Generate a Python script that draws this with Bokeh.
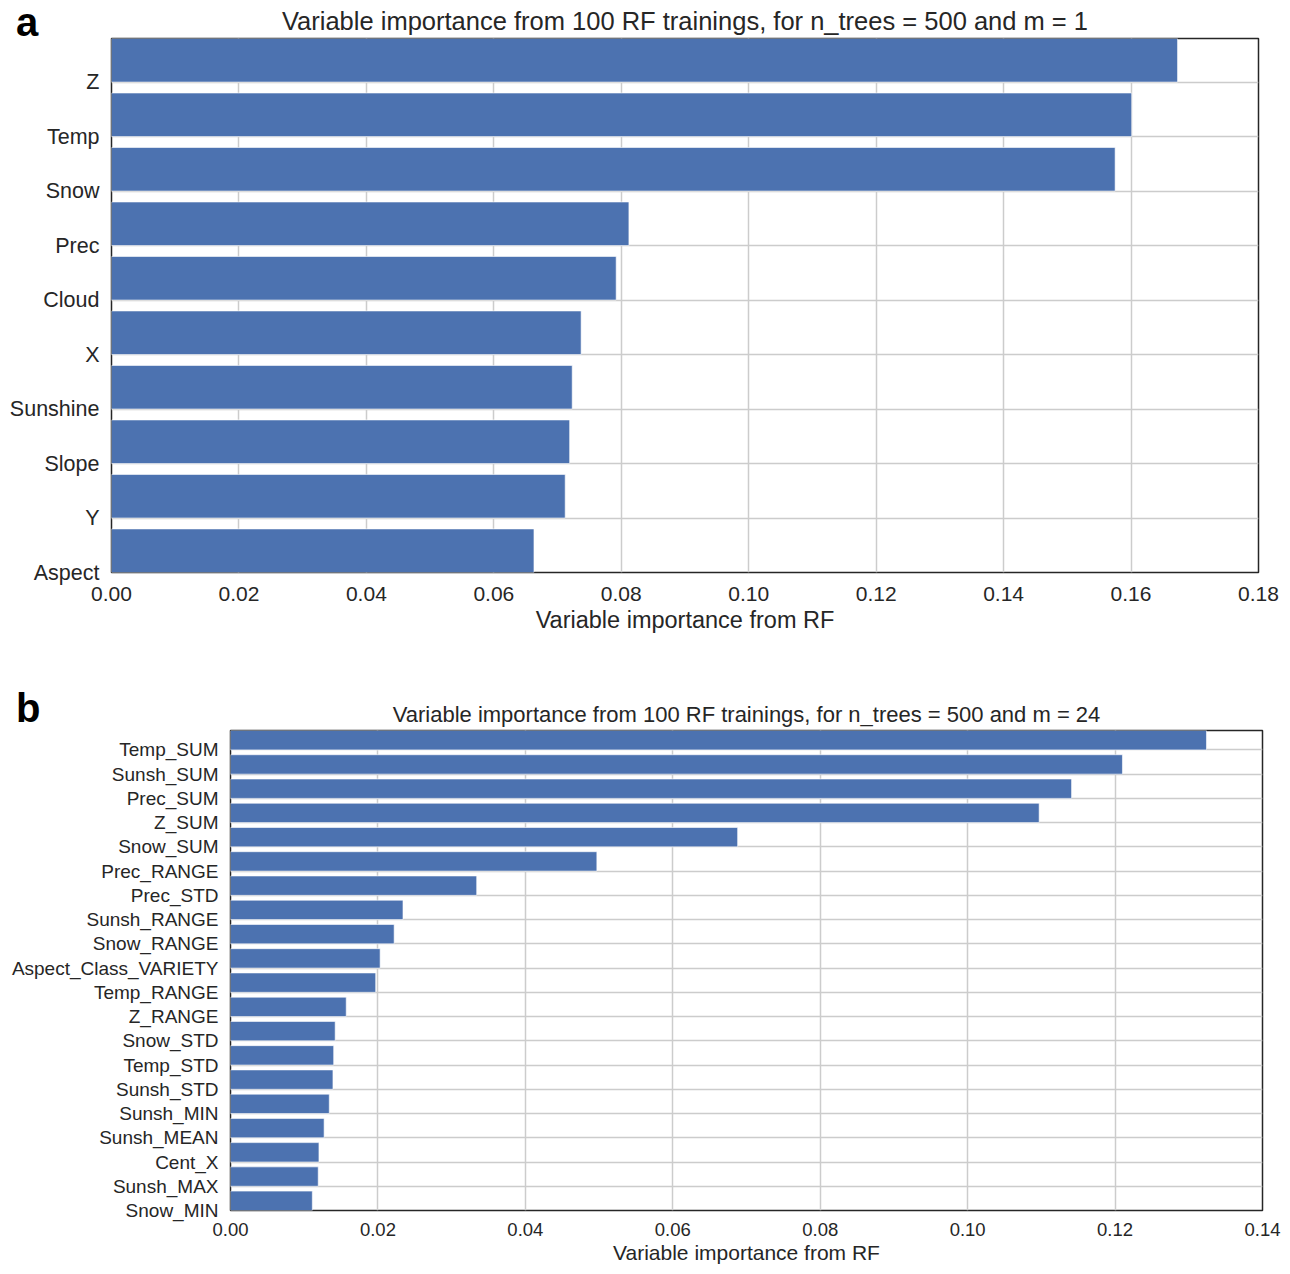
from bokeh.plotting import figure
from bokeh.models import Range1d, FixedTicker, PrintfTickFormatter, ColumnDataSource, Div
from bokeh.embed import file_html
from bokeh.resources import INLINE

# Panel a data (top to bottom)
vars_a = ["Z", "Temp", "Snow", "Prec", "Cloud", "X", "Sunshine", "Slope", "Y", "Aspect"]
imp_a = [0.1673, 0.1601, 0.1575, 0.0812, 0.0792, 0.0737, 0.0723, 0.0719, 0.0712, 0.0663]
xticks_a = [0.00, 0.02, 0.04, 0.06, 0.08, 0.10, 0.12, 0.14, 0.16, 0.18]

# Panel b data (top to bottom)
vars_b = ["Temp_SUM", "Sunsh_SUM", "Prec_SUM", "Z_SUM", "Snow_SUM", "Prec_RANGE", "Prec_STD",
          "Sunsh_RANGE", "Snow_RANGE", "Aspect_Class_VARIETY", "Temp_RANGE", "Z_RANGE",
          "Snow_STD", "Temp_STD", "Sunsh_STD", "Sunsh_MIN", "Sunsh_MEAN", "Cent_X",
          "Sunsh_MAX", "Snow_MIN"]
imp_b = [0.1324, 0.1210, 0.1141, 0.1097, 0.0688, 0.0497, 0.0334, 0.0234, 0.0222, 0.0203,
         0.0197, 0.0157, 0.0142, 0.0140, 0.0139, 0.0134, 0.0127, 0.0120, 0.0119, 0.0111]
xticks_b = [0.00, 0.02, 0.04, 0.06, 0.08, 0.10, 0.12, 0.14]

TITLE_A = "Variable importance from 100 RF trainings, for n_trees = 500 and m = 1"
TITLE_B = "Variable importance from 100 RF trainings, for n_trees = 500 and m = 24"
XLABEL = "Variable importance from RF"

BAR = "#4C72B0"
TXT = "#262626"
GRID = "#cccccc"
FONT = "Liberation Sans"


def make_panel(names, vals, xticks, title, sizes, width, height, borders,
               title_standoff, tick_standoff, label_standoff):
    fs_title, fs_label, fs_xtick, fs_ytick = sizes
    n = len(names)
    pos = list(range(n - 1, -1, -1))  # top item gets highest position
    src = ColumnDataSource(dict(y=[p + 0.4 for p in pos], right=vals, name=names))
    p = figure(width=width, height=height, output_backend="svg", toolbar_location=None,
               x_range=Range1d(xticks[0], xticks[-1]), y_range=Range1d(0, n - 1 + 0.8),
               title=title,
               min_border_left=borders[0], min_border_right=borders[1],
               min_border_top=borders[2], min_border_bottom=borders[3])
    p.hbar(y="y", right="right", left=0, height=0.8, source=src,
           fill_color=BAR, line_color="white", line_alpha=0.6, line_width=1)
    p.title.text_font = FONT
    p.title.text_font_size = fs_title
    p.title.text_font_style = "normal"
    p.title.text_color = TXT
    p.title.align = "center"
    p.title.standoff = title_standoff

    p.xaxis.ticker = FixedTicker(ticks=xticks)
    p.xaxis.formatter = PrintfTickFormatter(format="%.2f")
    p.xaxis.axis_label = XLABEL
    p.yaxis.ticker = FixedTicker(ticks=pos)
    p.yaxis.major_label_overrides = {pp: nm for pp, nm in zip(pos, names)}
    for ax in (p.xaxis, p.yaxis):
        ax.axis_line_color = None
        ax.major_tick_line_color = None
        ax.minor_tick_line_color = None
        ax.major_tick_out = 0
        ax.major_tick_in = 0
        ax.minor_tick_out = 0
        ax.minor_tick_in = 0
        ax.major_label_text_font = FONT
        ax.major_label_text_color = TXT
        ax.axis_label_text_font = FONT
        ax.axis_label_text_font_size = fs_label
        ax.axis_label_text_font_style = "normal"
        ax.axis_label_text_color = TXT
    p.xaxis.major_label_text_font_size = fs_xtick
    p.yaxis.major_label_text_font_size = fs_ytick
    p.xaxis.major_label_standoff = tick_standoff
    p.xaxis.axis_label_standoff = label_standoff
    p.yaxis.major_label_standoff = 12
    p.xgrid.grid_line_color = GRID
    p.ygrid.grid_line_color = GRID
    p.xgrid.grid_line_width = 1.5
    p.ygrid.grid_line_width = 1.5
    p.outline_line_color = TXT
    p.outline_line_width = 1.5
    p.outline_line_alpha = 1
    p.background_fill_color = "white"
    p.border_fill_color = "white"
    return p


def panel_letter(letter, left, top):
    return Div(text=letter, styles={
        "position": "absolute", "left": f"{left}px", "top": f"{top}px",
        "font-family": FONT, "font-weight": "bold", "font-size": "40px",
        "line-height": "40px", "color": "black", "z-index": "10"})


pa = make_panel(vars_a, imp_a, xticks_a, TITLE_A, ("25.5px", "23.5px", "21px", "21.5px"),
                1286, 660, (111, 28, 38, 88), 7, 14, 3)
pb = make_panel(vars_b, imp_b, xticks_b, TITLE_B, ("22px", "21px", "18.5px", "19px"),
                1286, 607, (230, 24, 70, 57), 8, 12, 2)

la = panel_letter("a", 11, -3)
lb = panel_letter("b", 11, 683)

open("out.html", "w").write(file_html([pa, pb, la, lb], INLINE))
